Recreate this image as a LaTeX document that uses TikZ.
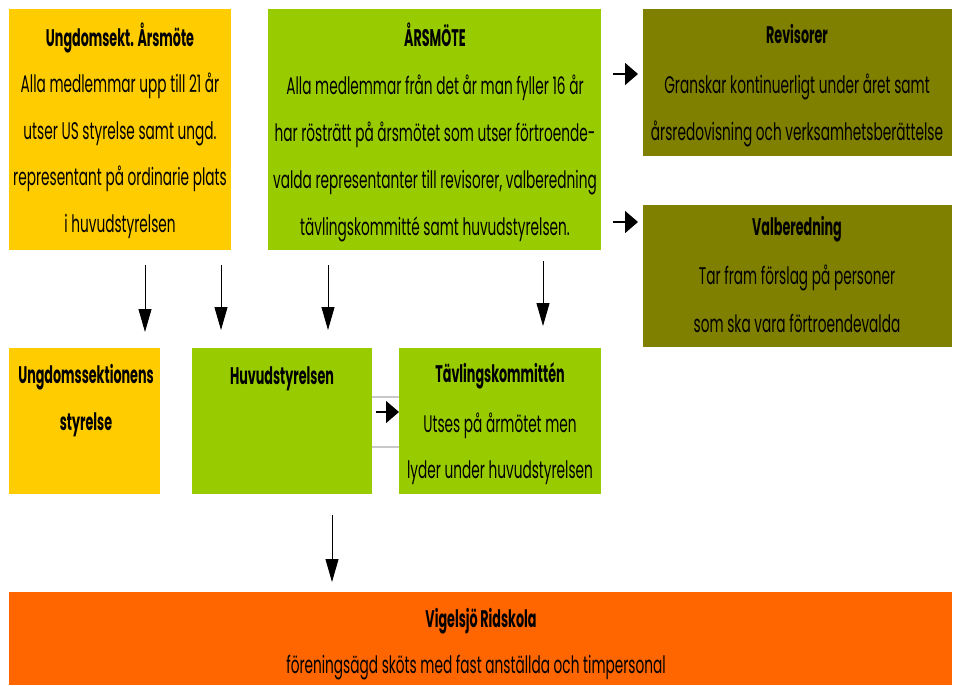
\documentclass[tikz,border=0pt]{standalone}
\usepackage{fontspec}
\setmainfont{Poppins}[FakeStretch=0.57,BoldFeatures={FakeStretch=0.53}]
\usetikzlibrary{arrows.meta,calc}
\definecolor{cyel}{HTML}{FFCC00}
\definecolor{cgrn}{HTML}{99CC00}
\definecolor{coli}{HTML}{808000}
\definecolor{corg}{HTML}{FF6600}
\tikzset{
  box/.style={anchor=north west,inner sep=0pt,outer sep=0pt,draw=none},
  txt/.style={anchor=base,inner sep=0pt,font=\fontsize{24}{28}\selectfont},
  ttl/.style={txt,font=\fontsize{24}{28}\selectfont\bfseries},
  arr/.style={line width=0.9pt,-{Triangle[length=23pt,width=13pt]}},
  harr/.style={line width=1.6pt,-{Triangle[length=13pt,width=22pt]}},
  gline/.style={line width=1.2pt,draw={rgb,255:red,200;green,200;blue,200}}
}
\begin{document}
\begin{tikzpicture}[x=1pt,y=-1pt]
\useasboundingbox (0,0) rectangle (957,685);
% boxes
\node[box,fill=cyel,minimum width=222pt,minimum height=241pt] (ung) at (9,9) {};
\node[box,fill=cgrn,minimum width=333pt,minimum height=241pt] (ars) at (268,9) {};
\node[box,fill=coli,minimum width=309pt,minimum height=147pt] (rev) at (643,9) {};
\node[box,fill=coli,minimum width=309pt,minimum height=142pt] (val) at (643,205) {};
\node[box,fill=cyel,minimum width=151pt,minimum height=146pt] (uss) at (9,348) {};
\node[box,fill=cgrn,minimum width=180pt,minimum height=146pt] (huv) at (192,348) {};
\node[box,fill=cgrn,minimum width=202pt,minimum height=146pt] (tav) at (399,348) {};
\node[box,fill=corg,minimum width=943pt,minimum height=93pt] (vig) at (9,592) {};
% texts
\node[ttl] (ung1) at (120,47) {Ungdomsekt. Årsmöte};
\node[txt] (ung2) at (120,92) {Alla medlemmar upp till 21 år};
\node[txt] (ung3) at (120,139) {utser US styrelse samt ungd.};
\node[txt] (ung4) at (120,185) {representant på ordinarie plats};
\node[txt] (ung5) at (120,232) {i huvudstyrelsen};
\node[ttl] (ars1) at (435,47) {ÅRSMÖTE};
\node[txt] (ars2) at (435,94) {Alla medlemmar från det år man fyller 16 år};
\node[txt] (ars3) at (435,141) {har rösträtt på årsmötet som utser förtroende-};
\node[txt] (ars4) at (435,188) {valda representanter till revisorer, valberedning};
\node[txt] (ars5) at (435,235) {tävlingskommitté samt huvudstyrelsen.};
\node[ttl] (rev1) at (797,44) {Revisorer};
\node[txt] (rev2) at (797,93) {Granskar kontinuerligt under året samt};
\node[txt] (rev3) at (797,140) {årsredovisning och verksamhetsberättelse};
\node[ttl] (val1) at (797,235) {Valberedning};
\node[txt] (val2) at (797,284) {Tar fram förslag på personer};
\node[txt] (val3) at (797,332) {som ska vara förtroendevalda};
\node[ttl] (uss1) at (86,383) {Ungdomssektionens};
\node[ttl] (uss2) at (86,430) {styrelse};
\node[ttl] (huv1) at (282,384) {Huvudstyrelsen};
\node[ttl] (tav1) at (500,382) {Tävlingskommittén};
\node[txt] (tav2) at (500,432) {Utses på årmötet men};
\node[txt] (tav3) at (500,478) {lyder under huvudstyrelsen};
\node[ttl] (vig1) at (481,627) {Vigelsjö Ridskola};
\node[txt] (vig2) at (476,673) {föreningsägd sköts med fast anställda och timpersonal};
% connectors
\coordinate (c1) at (145,0);
\coordinate (c2) at (221,0);
\coordinate (c3) at (328,0);
\coordinate (c4) at (543,0);
\coordinate (c5) at (332,0);
\coordinate (r1) at (0,74);
\coordinate (r2) at (0,222);
\coordinate (r3) at (0,412);
\coordinate (g1) at (0,397);
\coordinate (g2) at (0,447);
\draw[gline] (huv.east |- g1) -- (tav.west |- g1);
\draw[gline] (huv.east |- g2) -- (tav.west |- g2);
\draw[arr,shorten <=15pt,shorten >=16pt] (ung.south -| c1) -- (uss.north -| c1);
\draw[arr,shorten <=15pt,shorten >=18pt] (ung.south -| c2) -- (huv.north -| c2);
\draw[arr,shorten <=15pt,shorten >=18pt] (ars.south -| c3) -- (huv.north -| c3);
\draw[arr,shorten <=11pt,shorten >=22pt] (ars.south -| c4) -- (tav.north -| c4);
\draw[arr,shorten <=21pt,shorten >=10pt] (huv.south -| c5) -- (vig.north -| c5);
\draw[harr,shorten <=12pt,shorten >=5pt] (ars.east |- r1) -- (rev.west |- r1);
\draw[harr,shorten <=12pt,shorten >=5pt] (ars.east |- r2) -- (val.west |- r2);
\draw[harr,shorten <=4pt] (huv.east |- r3) -- (tav.west |- r3);
\end{tikzpicture}
\end{document}
